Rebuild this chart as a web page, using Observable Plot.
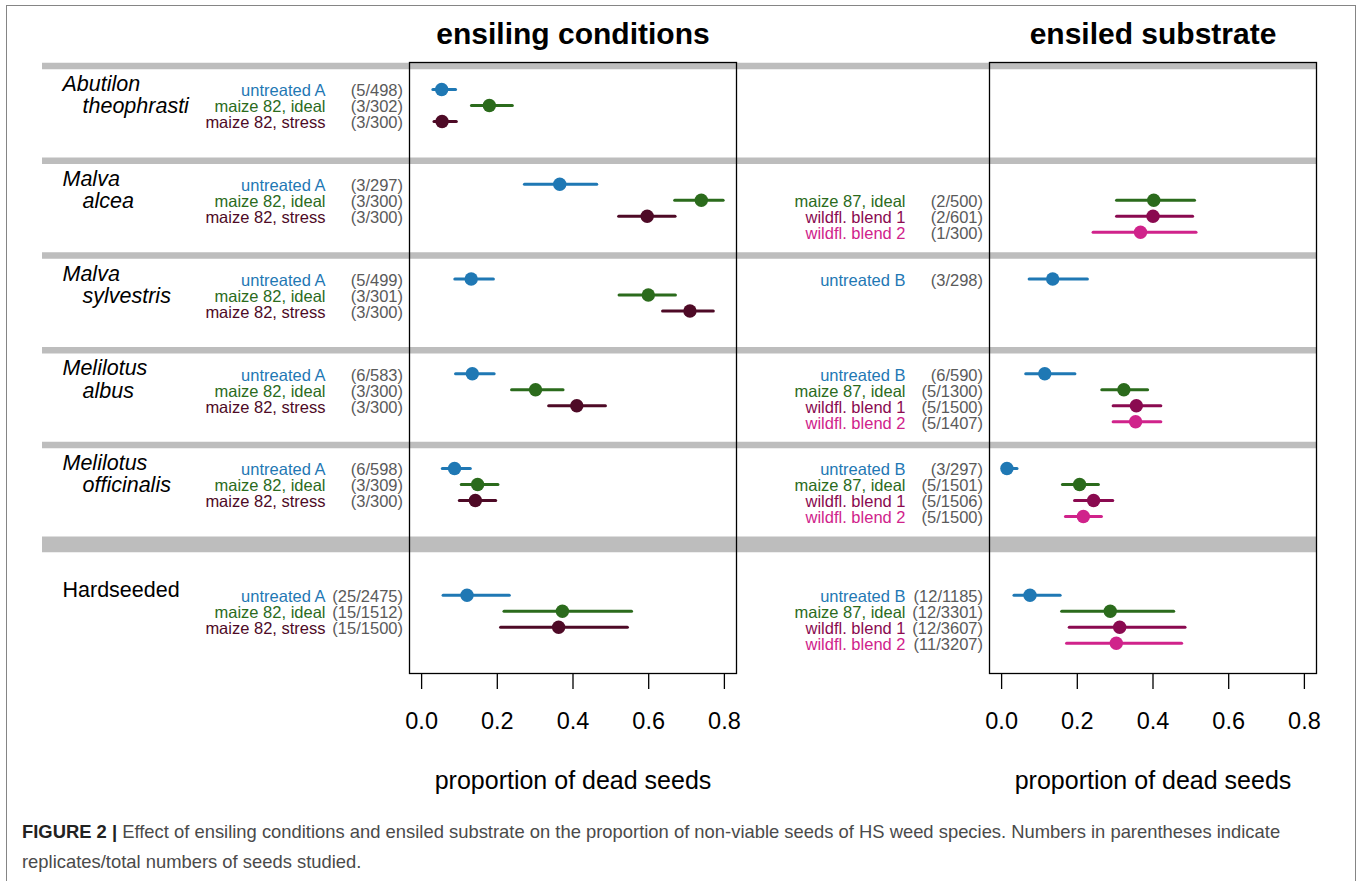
<!DOCTYPE html>
<html>
<head>
<meta charset="utf-8">
<script src="https://cdn.jsdelivr.net/npm/d3@7"></script>
<script src="https://cdn.jsdelivr.net/npm/@observablehq/plot@0.6"></script>
<style>
  body { margin: 0; background: #fff; }
  #fig { position: relative; width: 1357px; height: 881px; overflow: hidden; background: #fff;
         font-family: "Liberation Sans", Arial, Helvetica, sans-serif; }
  #fig svg { position: absolute; left: 0; top: 0; }
  #border { position: absolute; left: 6px; top: 5px; width: 1348px; height: 900px; border: 1.5px solid #858585; }
  #caption { position: absolute; left: 22px; top: 817px; width: 1320px; font-size: 18.4px; line-height: 30px;
             color: #4a4a4a; white-space: nowrap; }
  #caption b { color: #222; }
</style>
</head>
<body>
<div id="fig">
  <div id="border"></div>
  <div id="caption"><b>FIGURE 2 |</b> Effect of ensiling conditions and ensiled substrate on the proportion of non-viable seeds of HS weed species. Numbers in parentheses indicate<br>replicates/total numbers of seeds studied.</div>
</div>
<script>
// ---------------- data ----------------
const speciesFirst  = ["Abutilon", "Malva", "Malva", "Melilotus", "Melilotus", "Hardseeded"];
const speciesSecond = ["theophrasti", "alcea", "sylvestris", "albus", "officinalis", ""];
const panelTitles = ["ensiling conditions", "ensiled substrate"];
const axisTitle = "proportion of dead seeds";
const xTicks = [0, 0.2, 0.4, 0.6, 0.8];

const condTreatments   = ["untreated A", "maize 82, ideal", "maize 82, stress"];
const substrTreatments = ["untreated B", "maize 87, ideal", "wildfl. blend 1", "wildfl. blend 2"];
const condColors   = ["#1f78b4", "#2b6b1c", "#4e0a26"];
const substrColors = ["#1f78b4", "#2b6b1c", "#8a0a50", "#d0238b"];

// [species index, treatment index, replicates/seeds, estimate, lower, upper]
const condData = [
  [0, 0, "(5/498)",   0.053, 0.031, 0.091],
  [0, 1, "(3/302)",   0.179, 0.133, 0.241],
  [0, 2, "(3/300)",   0.054, 0.034, 0.093],
  [1, 0, "(3/297)",   0.365, 0.273, 0.464],
  [1, 1, "(3/300)",   0.739, 0.670, 0.798],
  [1, 2, "(3/300)",   0.596, 0.522, 0.671],
  [2, 0, "(5/499)",   0.131, 0.089, 0.191],
  [2, 1, "(3/301)",   0.599, 0.523, 0.672],
  [2, 2, "(3/300)",   0.709, 0.638, 0.772],
  [3, 0, "(6/583)",   0.134, 0.091, 0.193],
  [3, 1, "(3/300)",   0.301, 0.239, 0.375],
  [3, 2, "(3/300)",   0.410, 0.337, 0.487],
  [4, 0, "(6/598)",   0.087, 0.056, 0.130],
  [4, 1, "(3/309)",   0.148, 0.106, 0.203],
  [4, 2, "(3/300)",   0.142, 0.101, 0.197],
  [5, 0, "(25/2475)", 0.120, 0.058, 0.233],
  [5, 1, "(15/1512)", 0.372, 0.219, 0.556],
  [5, 2, "(15/1500)", 0.362, 0.210, 0.545]
];
const substrData = [
  [1, 1, "(2/500)",   0.402, 0.305, 0.511],
  [1, 2, "(2/601)",   0.400, 0.305, 0.506],
  [1, 3, "(1/300)",   0.367, 0.243, 0.515],
  [2, 0, "(3/298)",   0.135, 0.074, 0.228],
  [3, 0, "(6/590)",   0.114, 0.065, 0.195],
  [3, 1, "(5/1300)",  0.323, 0.266, 0.387],
  [3, 2, "(5/1500)",  0.356, 0.296, 0.422],
  [3, 3, "(5/1407)",  0.354, 0.296, 0.422],
  [4, 0, "(3/297)",   0.014, 0.004, 0.042],
  [4, 1, "(5/1501)",  0.206, 0.162, 0.257],
  [4, 2, "(5/1506)",  0.243, 0.194, 0.295],
  [4, 3, "(5/1500)",  0.216, 0.170, 0.265],
  [5, 0, "(12/1185)", 0.075, 0.034, 0.156],
  [5, 1, "(12/3301)", 0.287, 0.160, 0.456],
  [5, 2, "(12/3607)", 0.312, 0.180, 0.486],
  [5, 3, "(11/3207)", 0.303, 0.173, 0.477]
];

// ---------------- layout ----------------
const W = 1357, H = 800, MT = 62, MB = 127;
const FONT = '"Liberation Sans", Arial, Helvetica, sans-serif';
const Y_MAX = 38.1875;             // one unit = one text line
const ROW0 = 1.6875, GROUP = 5.922, HS_EXTRA = 2;
const lastIdx = speciesFirst.length - 1;
const rowY = (s, t) => ROW0 + GROUP * s + (s === lastIdx ? HS_EXTRA : 0) + t;
const barY = k => ROW0 + GROUP * k - 1.475;
const yScale = {domain: [0, Y_MAX], reverse: true, axis: null};
const baseStyle = {background: "transparent", fontFamily: FONT, overflow: "visible"};

const fig = document.getElementById("fig");
const border = document.getElementById("border");

// backdrop: separator bands and species names
const speciesIdx = d3.range(speciesFirst.length);
const normalBars = speciesIdx.slice(0, -1);
const backdrop = Plot.plot({
  width: W, height: H, marginTop: MT, marginBottom: MB, marginLeft: 42, marginRight: 41,
  style: baseStyle,
  y: yScale,
  marks: [
    Plot.ruleY(normalBars, {y: k => barY(k), stroke: "#bdbdbd", strokeWidth: 6.5}),
    Plot.ruleY([lastIdx], {y: k => barY(k) + 0.29, stroke: "#bdbdbd", strokeWidth: 15.7}),
    // species (italic, two lines)
    Plot.text(normalBars, {y: s => rowY(s, 0) - 0.33, text: s => speciesFirst[s], frameAnchor: "left",
      textAnchor: "start", dx: 20, fontSize: 21.5, fontStyle: "italic", fill: "black"}),
    Plot.text(normalBars, {y: s => rowY(s, 0) + 1.06, text: s => speciesSecond[s],
      frameAnchor: "left", textAnchor: "start", dx: 40, fontSize: 21.5, fontStyle: "italic", fill: "black"}),
    // pooled group (upright)
    Plot.text([lastIdx], {y: s => rowY(s, 0) - 0.33, text: s => speciesFirst[s], frameAnchor: "left",
      textAnchor: "start", dx: 20, fontSize: 21.5, fill: "black"})
  ]
});
fig.insertBefore(backdrop, border.nextSibling);

function panel(rows, treatments, colors, title, left, right) {
  const data = rows.map(([s, t, n, est, lo, hi]) => ({
    y: rowY(s, t), label: treatments[t], color: colors[t], n, est, lo, hi
  }));
  return Plot.plot({
    width: W, height: H, marginTop: MT, marginBottom: MB, marginLeft: left, marginRight: W - right,
    style: baseStyle,
    x: {domain: [-0.032, 0.832], axis: null},
    y: yScale,
    color: {type: "identity"},
    marks: [
      Plot.ruleY(data, {y: "y", x1: "lo", x2: "hi", stroke: d => d.color, strokeWidth: 3, strokeLinecap: "round"}),
      Plot.dot(data, {x: "est", y: "y", fill: d => d.color, r: 6.7}),
      Plot.text(data, {y: "y", text: "label", fill: d => d.color, frameAnchor: "left", textAnchor: "end",
        dx: -84, dy: 1.5, fontSize: 16.5}),
      Plot.text(data, {y: "y", text: "n", fill: "#5a5a5a", frameAnchor: "left", textAnchor: "end",
        dx: -6.5, dy: 1.5, fontSize: 16.5}),
      Plot.frame({stroke: "black", strokeWidth: 1.3}),
      Plot.axisX({ticks: xTicks, tickFormat: d3.format(".1f"), tickSize: 16, tickPadding: 22.5,
        fontSize: 23.5, label: null, strokeWidth: 1.3, fill: "black"}),
      Plot.text([title], {text: d => d, frameAnchor: "top", lineAnchor: "middle", dy: -28.5,
        fontSize: 30, fontWeight: "bold", fill: "black"}),
      Plot.text([axisTitle], {text: d => d, frameAnchor: "bottom", lineAnchor: "middle", dy: 107,
        fontSize: 25, fill: "black"})
    ]
  });
}

const leftPanel = panel(condData, condTreatments, condColors, panelTitles[0], 409, 736);
const rightPanel = panel(substrData, substrTreatments, substrColors, panelTitles[1], 989, 1316);
fig.insertBefore(leftPanel, backdrop.nextSibling);
fig.insertBefore(rightPanel, leftPanel.nextSibling);
</script>
</body>
</html>
